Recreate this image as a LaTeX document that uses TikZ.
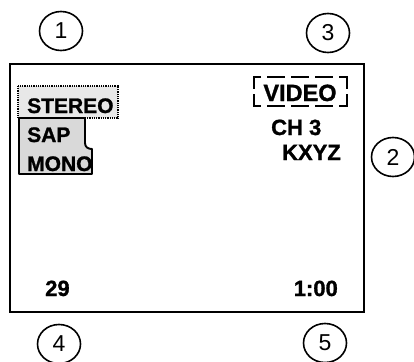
\documentclass[tikz,border=0pt]{standalone}
\usepackage{fontspec}
\setmainfont[BoldFeatures={FakeBold=1.2}]{Liberation Sans}
\usetikzlibrary{shapes.geometric}
\tikzset{
  callout/.style={draw, ellipse, line width=1.6pt, minimum width=43pt, minimum height=39pt, inner sep=0pt, font=\fontsize{23}{23}\selectfont},
  lbl/.style={inner sep=0pt, font=\fontsize{21}{21}\selectfont\bfseries},
  vdash/.style={line width=2.5pt},
}
\begin{document}
\begin{tikzpicture}[x=1pt,y=-1pt]
\useasboundingbox (0,0) rectangle (414,361);
% screen frame
\draw[line width=2.8pt] (10,64) rectangle (364,312);
% callouts
\node[callout] (c1) at (61,31) {1};
\node[callout] (c3) at (328,33) {3};
\node[callout] (c2) at (393,157) {2};
\node[callout] (c4) at (59,344) {4};
\node[callout] (c5) at (325,343) {5};
% audio boxes
\draw[fill=gray!18, line width=1.5pt, dash pattern=on 1pt off 0.8pt] (18,86) rectangle (118,118);
\draw[fill=gray!30, line width=1.9pt, line join=round] (19,118) -- (85,118) -- (85,143) .. controls (85,147) and (88,149) .. (92,149) -- (92,174) -- (19,174) -- cycle;
\node[lbl, anchor=base west] (stereo) at (27,113) {STEREO};
\node[lbl, anchor=base west] (sap) at (27,142) {SAP};
\node[lbl, anchor=base west] (mono) at (27,171) {MONO};
% video indicator
\node[lbl, font=\fontsize{23.5}{23.5}\selectfont\bfseries, anchor=base] (video) at (300,101) {VIDEO};
\draw[vdash] (261,77) -- (254,77) -- (254,89);
\draw[vdash] (254,94) -- (254,106) -- (261,106);
\draw[vdash] (339,77) -- (347,77) -- (347,89);
\draw[vdash] (347,94) -- (347,106) -- (339,106);
\foreach \a/\b in {267/285, 291/309, 315/333}{
  \draw[vdash] (\a,77) -- (\b,77);
  \draw[vdash] (\a,106) -- (\b,106);
}
% channel info
\node[lbl, font=\fontsize{22}{22}\selectfont\bfseries, anchor=base west] (ch) at (271,135) {CH 3};
\node[lbl, font=\fontsize{22}{22}\selectfont\bfseries, anchor=base east] (station) at (341,160) {KXYZ};
% bottom readouts
\node[lbl, font=\fontsize{22}{22}\selectfont\bfseries, anchor=base west] (num) at (45,296) {29};
\node[lbl, font=\fontsize{22}{22}\selectfont\bfseries, anchor=base east] (time) at (338,296) {1:00};
\end{tikzpicture}
\end{document}
